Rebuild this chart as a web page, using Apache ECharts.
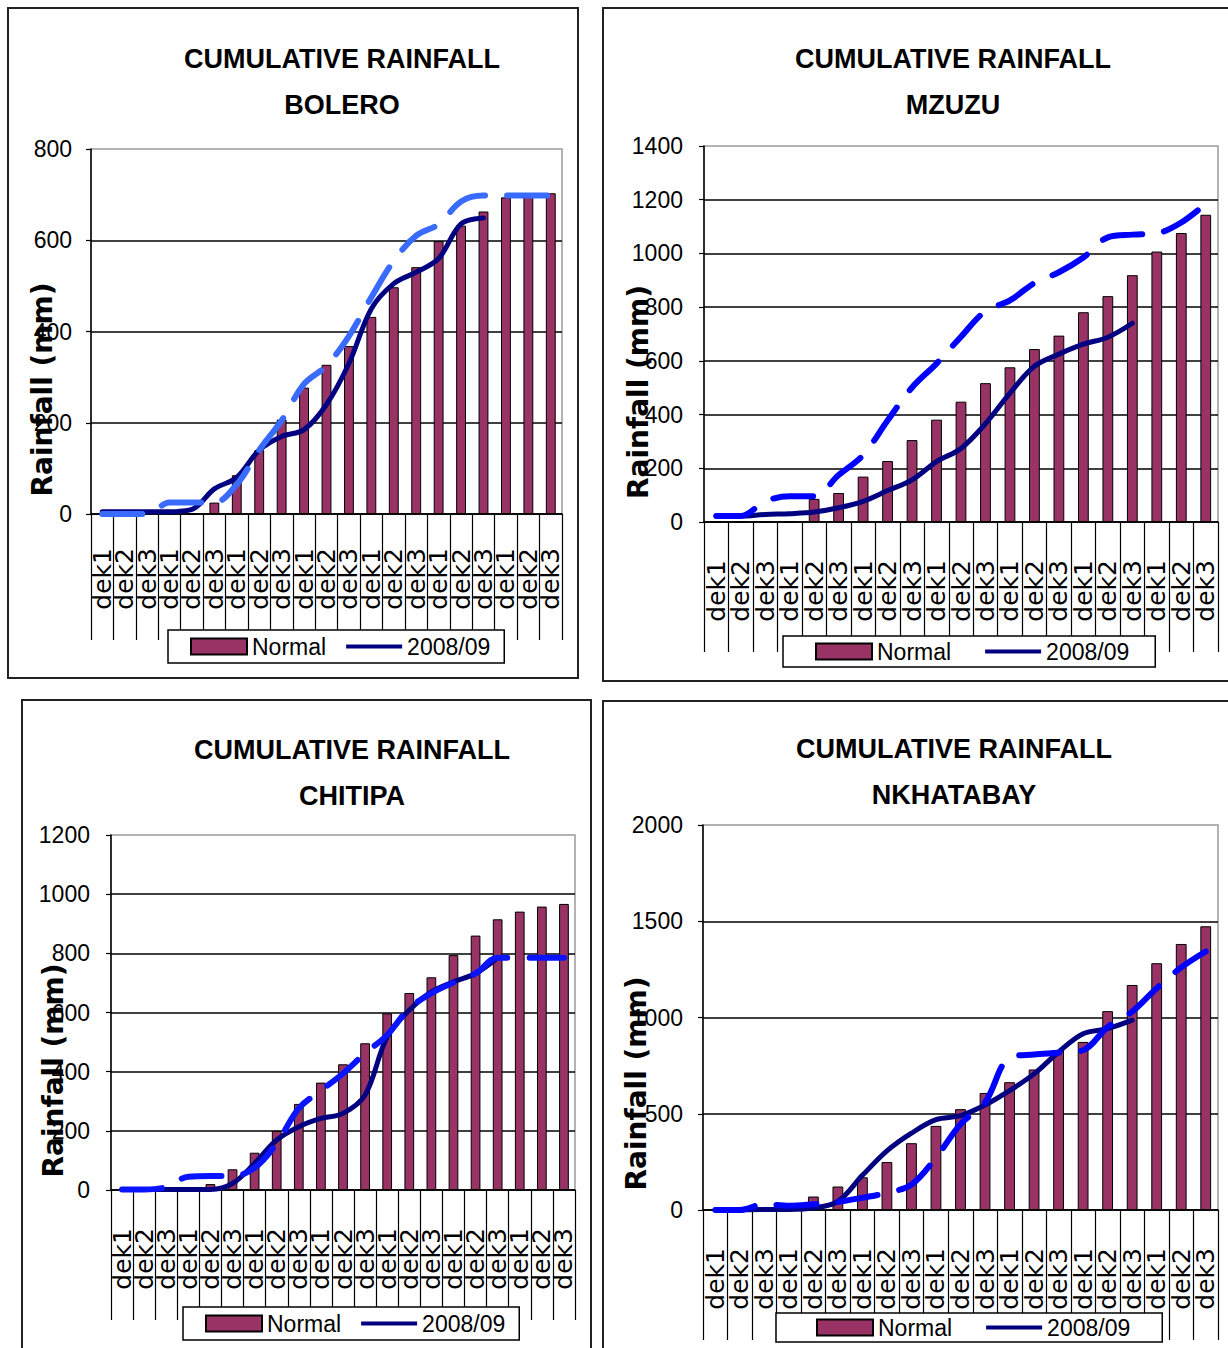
<!DOCTYPE html>
<html>
<head>
<meta charset="utf-8">
<script src="https://cdn.jsdelivr.net/npm/echarts@6/dist/echarts.min.js"></script>
<style>
html,body{margin:0;padding:0;background:#fff;}
#c{width:1228px;height:1348px;}
</style>
</head>
<body>
<div id="c"></div>
<script>
// ---------- data ----------
const categories = ['dek1','dek2','dek3','dek1','dek2','dek3','dek1','dek2','dek3','dek1','dek2','dek3',
                    'dek1','dek2','dek3','dek1','dek2','dek3','dek1','dek2','dek3'];

const boleroTicks = [0, 200, 400, 600, 800];
const boleroNormal = [0,0,0,0,0,25,85,140,207,277,327,368,432,497,541,598,632,663,694,697,703];
const bolero2008   = [5,5,5,5,10,55,80,140,170,185,240,330,450,505,530,560,636,649];
const boleroDashed = [0,0,0,25,25,25,65,140,205,285,325,390,475,555,610,635,685,698,698,698,698];

const mzuzuTicks = [0, 200, 400, 600, 800, 1000, 1200, 1400];
const mzuzuNormal = [0,0,0,0,86,108,169,227,305,381,448,517,576,644,694,781,841,919,1007,1076,1144];
const mzuzu2008   = [22,22,28,31,37,53,77,117,157,225,274,366,480,580,625,662,688,740];
const mzuzuDashed = [22,22,77,96,96,175,249,378,501,590,690,785,825,890,930,985,1060,1070,1075,1115,1185];

const chitipaTicks = [0, 200, 400, 600, 800, 1000, 1200];
const chitipaNormal = [0,0,0,0,20,70,126,200,291,363,425,496,597,666,719,794,860,915,941,958,967];
const chitipa2008   = [2,2,2,2,2,22,90,169,214,242,259,321,518,608,670,704,732,785];
const chitipaDashed = [2,2,10,45,47,47,75,158,276,336,394,462,524,614,665,701,732,785,785,785,785];

const nkhataTicks = [0, 500, 1000, 1500, 2000];
const nkhataNormal = [0,0,0,5,70,122,170,249,347,437,524,608,664,730,830,873,1033,1169,1282,1382,1474];
const nkhata2008   = [0,0,3,3,10,45,180,307,399,469,490,545,620,707,821,916,942,986];
const nkhataDashed = [0,0,30,22,30,42,64,89,132,272,446,559,791,808,817,830,950,1030,1152,1260,1343];

const legendNames = ['Normal', '2008/09'];
const yAxisTitle = 'Rainfall (mm)';

// ---------- panels (data refs) ----------
const panels = [
  {title: 'CUMULATIVE RAINFALL\nBOLERO',    ticks: boleroTicks,  normal: boleroNormal,  season: bolero2008,  extra: boleroDashed},
  {title: 'CUMULATIVE RAINFALL\nMZUZU',     ticks: mzuzuTicks,   normal: mzuzuNormal,   season: mzuzu2008,   extra: mzuzuDashed},
  {title: 'CUMULATIVE RAINFALL\nCHITIPA',   ticks: chitipaTicks, normal: chitipaNormal, season: chitipa2008, extra: chitipaDashed},
  {title: 'CUMULATIVE RAINFALL\nNKHATABAY', ticks: nkhataTicks,  normal: nkhataNormal,  season: nkhata2008,  extra: nkhataDashed}
];

// ---------- layout / styles ----------
const NARROW = "'Liberation Sans',Arial,sans-serif";
const WIDE = "'DejaVu Sans',sans-serif";

const layout = [
  {grid:{left:91,top:149,width:471,height:365}, titleX:342, titleTop:36,
   legend:{left:168, top:630, padding:[5,14,5,22], itemGap:20},
   nameGap:35, namePad:116, labelMargin:34, tickLen:126, yLabelMargin:19,
   dashColor:'#3a6bff', border:{x:8,y:8,width:570,height:670}},
  {grid:{left:704,top:146,width:514,height:376}, titleX:953, titleTop:36,
   legend:{left:783, top:636, padding:[4,26,4,32], itemGap:34},
   nameGap:52, namePad:116, labelMargin:38, tickLen:130, yLabelMargin:21,
   dashColor:'#0000ff', border:{x:603,y:8,width:640,height:673}},
  {grid:{left:111,top:835,width:464,height:355}, titleX:352, titleTop:727,
   legend:{left:183, top:1307, padding:[5,14,5,22], itemGap:20},
   nameGap:44, namePad:116, labelMargin:38, tickLen:130, yLabelMargin:21,
   dashColor:'#0a14ff', border:{x:22,y:700,width:569,height:670}},
  {grid:{left:703,top:825,width:515,height:385}, titleX:954, titleTop:726,
   legend:{left:776, top:1313, padding:[3,32,3,40], itemGap:34},
   nameGap:53, namePad:132, labelMargin:38, tickLen:130, yLabelMargin:20,
   dashColor:'#0000ff', border:{x:603,y:701,width:640,height:670}}
];

const option = {
  backgroundColor: '#ffffff',
  animation: false,
  title: [], grid: [], xAxis: [], yAxis: [], legend: [], series: [], graphic: []
};

panels.forEach((p, i) => {
  const L = layout[i];
  option.graphic.push({
    type: 'rect', silent: true, z: 0,
    shape: L.border,
    style: {fill: 'none', stroke: '#222', lineWidth: 2}
  });
  option.title.push({
    text: p.title, left: L.titleX, top: L.titleTop, padding: 0,
    textAlign: 'center',
    textStyle: {fontFamily: NARROW, fontWeight: 'bold', fontSize: 27, lineHeight: 46, color: '#000'}
  });
  option.grid.push(Object.assign({
    show: true, borderColor: '#9a9a9a', borderWidth: 1.5, backgroundColor: 'transparent',
    containLabel: false, outerBoundsMode: 'none'
  }, L.grid));
  option.xAxis.push({
    type: 'category', gridIndex: i, data: categories, boundaryGap: true,
    axisLine: {show: true, lineStyle: {color: '#000', width: 1.5}},
    axisTick: {show: true, interval: 0, length: L.tickLen, lineStyle: {color: '#000', width: 1.2}},
    axisLabel: {interval: 0, rotate: 90, margin: L.labelMargin, color: '#000',
                fontFamily: WIDE, fontSize: 25},
    splitLine: {show: false}
  });
  const t = p.ticks;
  option.yAxis.push({
    type: 'value', gridIndex: i, min: t[0], max: t[t.length - 1], interval: t[1] - t[0],
    name: yAxisTitle, nameLocation: 'middle', nameRotate: 90, nameGap: L.nameGap,
    nameMoveOverlap: false,
    nameTextStyle: {fontFamily: WIDE, fontWeight: 'bold', fontSize: 28, color: '#000',
                    padding: [0, L.namePad, 0, 0]},
    axisLine: {show: true, lineStyle: {color: '#000', width: 1.5}},
    axisTick: {show: true, length: 5, lineStyle: {color: '#000', width: 1.2}},
    axisLabel: {margin: L.yLabelMargin, color: '#000', fontFamily: NARROW, fontSize: 23,
                formatter: v => String(v)},
    splitLine: {show: true, showMaxLine: false, lineStyle: {color: '#000', width: 1.5}}
  });
  option.legend.push({
    data: [
      {name: legendNames[0], icon: 'rect'},
      {name: legendNames[1], icon: 'path://M0 0H56V4H0Z'}
    ],
    left: L.legend.left, top: L.legend.top, orient: 'horizontal',
    padding: L.legend.padding, itemGap: L.legend.itemGap,
    itemWidth: 56, itemHeight: 16,
    backgroundColor: '#fff', borderColor: '#000', borderWidth: 1.5, borderRadius: 0,
    textStyle: {fontFamily: NARROW, fontSize: 23, color: '#000'},
    selectedMode: false
  });
  option.series.push({
    type: 'bar', name: 'Normal', xAxisIndex: i, yAxisIndex: i, data: p.normal,
    barWidth: '44%', z: 2,
    itemStyle: {color: '#993366', borderColor: '#000', borderWidth: 1}
  });
  option.series.push({
    type: 'line', name: '2008/09', xAxisIndex: i, yAxisIndex: i, data: p.season,
    smooth: 0.35, symbol: 'none', showSymbol: false, z: 3,
    itemStyle: {color: '#000080'},
    lineStyle: {color: '#000080', width: 5, cap: 'round', join: 'round'}
  });
  option.series.push({
    type: 'line', name: 'Dashed estimate', xAxisIndex: i, yAxisIndex: i, data: p.extra,
    smooth: 0.35, symbol: 'none', showSymbol: false, z: 4,
    itemStyle: {color: L.dashColor},
    lineStyle: {color: L.dashColor, width: 6, type: [40, 22], cap: 'round', join: 'round'}
  });
});

const chart = echarts.init(document.getElementById('c'), null, {renderer: 'svg', width: 1228, height: 1348});
chart.setOption(option);
</script>
</body>
</html>
